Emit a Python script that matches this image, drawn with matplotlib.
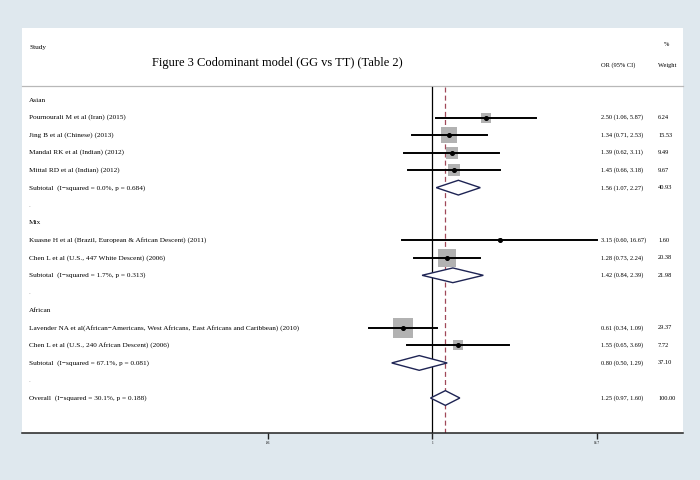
import matplotlib
matplotlib.use("Agg")
import matplotlib.pyplot as plt
import numpy as np
from matplotlib.patches import Polygon
from matplotlib.transforms import blended_transform_factory

plt.rcParams['font.family'] = ['Liberation Serif', 'DejaVu Serif']

# ---------------- data ----------------
title = "Figure 3 Codominant model (GG vs TT) (Table 2)"
groups = ["Asian", "Mix", "African"]
group_studies = [
    ["Pournourali M et al (Iran) (2015)",
     "Jing B et al (Chinese) (2013)",
     "Mandal RK et al (Indian) (2012)",
     "Mittal RD et al (Indian) (2012)"],
    ["Kuasne H et al (Brazil, European & African Descent) (2011)",
     "Chen L et al (U.S., 447 White Descent) (2006)"],
    ["Lavender NA et al(African\u2212Americans, West Africans, East Africans and Caribbean) (2010)",
     "Chen L et al (U.S., 240 African Descent) (2006)"],
]
group_or = [[2.50, 1.34, 1.39, 1.45], [3.15, 1.28], [0.61, 1.55]]
group_lo = [[1.06, 0.71, 0.62, 0.66], [0.60, 0.73], [0.34, 0.65]]
group_hi = [[5.87, 2.53, 3.11, 3.18], [16.67, 2.24], [1.09, 3.69]]
group_w = [[6.24, 15.53, 9.49, 9.67], [1.60, 20.38], [29.37, 7.72]]
subtotal_labels = ["Subtotal  (I\u2212squared = 0.0%, p = 0.684)",
                   "Subtotal  (I\u2212squared = 1.7%, p = 0.313)",
                   "Subtotal  (I\u2212squared = 67.1%, p = 0.081)"]
subtotal_or = [1.56, 1.42, 0.80]
subtotal_lo = [1.07, 0.84, 0.50]
subtotal_hi = [2.27, 2.39, 1.29]
subtotal_w = [40.93, 21.98, 37.10]
overall_label = "Overall  (I\u2212squared = 30.1%, p = 0.188)"
overall_or, overall_lo, overall_hi, overall_w = 1.25, 0.97, 1.60, 100.00
tick_vals = [0.06, 1, 16.7]
tick_labels = [".06", "1", "16.7"]

# ---------------- figure ----------------
W, H = 700, 480
fig = plt.figure(figsize=(7, 4.8), dpi=100)
bg = '#dfe8ee'
fig.patch.set_facecolor(bg)

px_left, px_right, px_top, px_bot = 22, 683, 28, 433
ax = fig.add_axes([px_left / W, 1 - px_bot / H, (px_right - px_left) / W, (px_bot - px_top) / H])
ax.set_facecolor('white')
ax.set_xscale('log')
ppl = 58.57  # pixels per ln unit
x0 = 432.3
ax.set_xlim(np.exp((px_left - x0) / ppl), np.exp((px_right - x0) / ppl))
row_h = 17.53
row0_px = 100.0
ax.set_ylim((px_bot - row0_px) / row_h, (px_top - row0_px) / row_h)

def prow(py):
    return (py - row0_px) / row_h

for s in ['top', 'left', 'right']:
    ax.spines[s].set_visible(False)
ax.spines['bottom'].set_linewidth(1.1)
ax.spines['bottom'].set_color('#222222')
ax.set_yticks([])
ax.set_xticks(tick_vals)
ax.set_xticklabels(tick_labels, fontsize=2.5)
ax.xaxis.set_minor_locator(matplotlib.ticker.NullLocator())
ax.tick_params(axis='x', direction='out', length=4.5, width=1.0, color='#222222', pad=1.5)

tr = blended_transform_factory(ax.transAxes, ax.transData)
fs = 5.2     # left column
fs_r = 4.6   # right columns
x_lab = (29 - px_left) / (px_right - px_left)
x_or = (601 - px_left) / (px_right - px_left)
x_w = (658 - px_left) / (px_right - px_left)

# header
ax.text(x_lab, prow(47), "Study", transform=tr, fontsize=fs, va='center', ha='left')
ax.text((277 - px_left) / (px_right - px_left), prow(63), title, transform=tr,
        fontsize=9.0, va='center', ha='center')
ax.text((666 - px_left) / (px_right - px_left), prow(45), "%", transform=tr,
        fontsize=fs_r, va='center', ha='center')
ax.text(x_or, prow(65), "OR (95% CI)", transform=tr, fontsize=fs_r, va='center', ha='left')
ax.text(x_w, prow(65), "Weight", transform=tr, fontsize=fs_r, va='center', ha='left')
ax.plot([0, 1], [prow(85.5), prow(85.5)], transform=tr, color='#b8b8b8', lw=0.9, clip_on=False)

# null line and overall line
ax.plot([1, 1], [prow(86.5), prow(px_bot)], color='black', lw=0.9, zorder=2)
ax.plot([overall_or, overall_or], [prow(86.5), prow(px_bot)], color='#a04858', lw=0.9,
        ls=(0, (4, 2.5)), zorder=2)

diamond_col = '#1e2454'
half_h = 0.42

def draw_diamond(y, o, lo, hi):
    poly = Polygon([(lo, y), (o, y - half_h), (hi, y), (o, y + half_h)], closed=True,
                   facecolor='white', edgecolor=diamond_col, lw=1.0, zorder=3)
    ax.add_patch(poly)

def fmt(o, lo, hi):
    return f"{o:.2f} ({lo:.2f}, {hi:.2f})"

row = 0
for g in range(len(groups)):
    ax.text(x_lab, row, groups[g], transform=tr, fontsize=fs, va='center', ha='left')
    row += 1
    for name, o, lo, hi, w in zip(group_studies[g], group_or[g], group_lo[g], group_hi[g], group_w[g]):
        ax.text(x_lab, row, name, transform=tr, fontsize=fs, va='center', ha='left')
        side_pt = 3.87 * np.sqrt(w) * 0.72
        ax.scatter([o], [row], marker='s', s=side_pt ** 2, color='#b2b2b2', linewidths=0, zorder=3)
        ax.plot([lo, hi], [row, row], color='black', lw=1.4, zorder=4)
        ax.plot([o], [row], marker='o', ms=2.6, color='black', zorder=5)
        ax.text(x_or, row, fmt(o, lo, hi), transform=tr, fontsize=fs_r, va='center', ha='left')
        ax.text(x_w, row, f"{w:.2f}", transform=tr, fontsize=fs_r, va='center', ha='left')
        row += 1
    ax.text(x_lab, row, subtotal_labels[g], transform=tr, fontsize=fs, va='center', ha='left')
    draw_diamond(row, subtotal_or[g], subtotal_lo[g], subtotal_hi[g])
    ax.text(x_or, row, fmt(subtotal_or[g], subtotal_lo[g], subtotal_hi[g]), transform=tr,
            fontsize=fs_r, va='center', ha='left')
    ax.text(x_w, row, f"{subtotal_w[g]:.2f}", transform=tr, fontsize=fs_r, va='center', ha='left')
    row += 1
    ax.text(x_lab, row, ".", transform=tr, fontsize=fs, va='center', ha='left', color='#888888')
    row += 1

ax.text(x_lab, row, overall_label, transform=tr, fontsize=fs, va='center', ha='left')
draw_diamond(row, overall_or, overall_lo, overall_hi)
ax.text(x_or, row, fmt(overall_or, overall_lo, overall_hi), transform=tr, fontsize=fs_r,
        va='center', ha='left')
ax.text(x_w, row, f"{overall_w:.2f}", transform=tr, fontsize=fs_r, va='center', ha='left')

fig.savefig("out.png", dpi=100, facecolor=fig.get_facecolor())
